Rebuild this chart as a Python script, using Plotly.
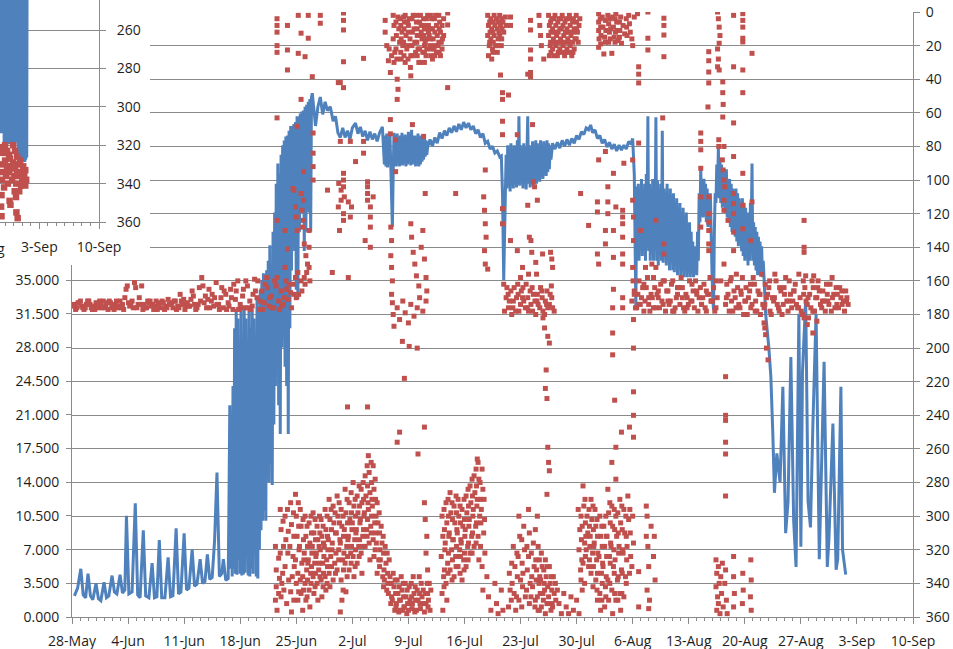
import plotly.graph_objects as go
import pandas as pd

W, H = 953, 649
BASE = pd.Timestamp("2013-05-28")
INSET_BASE = pd.Timestamp("2013-09-03")

# ---------------- main blue series: (days after 28-May, value on left axis) ----------------
blue_early = [
    (0.3, 2.2), (0.7, 3.0), (1.1, 5.0), (1.4, 2.3), (1.7, 2.0), (2.0, 4.5), (2.3, 2.2), (2.6, 1.8),
    (3.0, 3.5), (3.3, 1.9), (3.6, 1.7), (4.0, 3.6), (4.3, 2.0), (4.6, 2.2), (5.0, 4.3), (5.3, 2.6),
    (5.6, 2.4), (6.0, 4.4), (6.3, 2.5), (6.6, 2.8), (6.8, 10.5), (7.1, 2.4), (7.5, 2.6), (7.9, 11.8),
    (8.2, 2.3), (8.5, 2.0), (8.9, 9.0), (9.2, 2.2), (9.6, 2.0), (10.0, 5.6), (10.3, 2.0), (10.6, 2.1),
    (10.9, 8.0), (11.2, 2.0), (11.6, 2.0), (12.0, 6.2), (12.3, 2.1), (12.6, 2.2), (13.0, 9.2),
    (13.3, 2.4), (13.6, 2.6), (14.0, 8.7), (14.3, 2.8), (14.6, 3.0), (15.0, 7.0), (15.3, 3.2),
    (15.6, 3.4), (16.0, 6.0), (16.3, 3.5), (16.6, 3.7), (16.9, 6.5), (17.2, 3.9), (17.5, 4.1),
    (17.8, 7.9), (18.1, 15.0), (18.4, 4.2), (18.7, 4.5), (18.9, 6.0), (19.2, 3.8),
]
blue_rise = [
    (19.5, 4.0), (19.6, 12), (19.7, 22), (19.8, 5), (19.9, 14), (20.0, 4.2), (20.1, 24), (20.2, 5),
    (20.3, 30), (20.4, 4.5), (20.5, 32), (20.6, 4.4), (20.7, 31), (20.8, 6), (20.9, 26), (21.0, 4.5),
    (21.1, 32), (21.2, 4.3), (21.3, 25), (21.4, 4.4), (21.5, 32), (21.6, 4.6), (21.7, 31), (21.8, 8),
    (21.9, 20), (22.0, 4.3), (22.1, 32), (22.2, 4.2), (22.3, 30), (22.4, 5), (22.5, 32), (22.6, 4.5),
    (22.7, 31), (22.8, 10), (22.9, 24), (23.0, 4.2), (23.1, 33), (23.2, 4.0), (23.3, 32), (23.4, 7),
    (23.5, 34), (23.6, 9), (23.7, 35), (23.8, 10), (23.9, 35.7), (24.0, 11), (24.1, 34), (24.2, 10),
    (24.3, 36), (24.4, 16), (24.5, 37), (24.6, 14), (24.7, 38.6), (24.8, 16), (24.9, 36),
    (25.0, 13.7), (25.1, 40), (25.2, 20), (25.3, 42), (25.4, 24), (25.5, 45), (25.6, 26),
    (25.7, 47.1), (25.8, 22), (25.9, 46), (26.0, 19), (26.1, 48), (26.2, 28), (26.3, 49), (26.4, 29),
    (26.5, 49.5), (26.6, 26), (26.7, 49.9), (26.8, 24), (26.9, 50), (27.0, 19), (27.1, 50.5),
    (27.2, 30), (27.3, 51), (27.4, 36), (27.5, 51), (27.6, 40), (27.7, 51.2), (27.8, 38), (27.9, 51.4),
    (28.0, 34), (28.1, 52), (28.2, 33), (28.3, 52), (28.4, 40), (28.5, 52.3), (28.6, 42), (28.7, 52.5),
    (28.8, 44), (28.9, 52.6), (29.0, 38), (29.1, 53), (29.2, 40), (29.3, 53.2), (29.4, 45),
    (29.5, 53.5), (29.6, 42), (29.7, 53.8), (29.8, 40), (29.9, 54), (30.0, 54.4),
]
blue_plateau = [
    (30.4, 51), (30.7, 53), (31.0, 54), (31.3, 52.2), (31.6, 53.5), (31.9, 52.6), (32.25, 53),
    (32.6, 51.5), (32.9, 52), (33.2, 50.3), (33.5, 49.8), (33.8, 50.8), (34.1, 49.8), (34.4, 50.5),
    (34.7, 49.6), (35.0, 50.8), (35.4, 51.3), (35.7, 50.2), (36.0, 50.9), (36.3, 49.9), (36.6, 50.5),
    (36.9, 49.5), (37.2, 50.4), (37.5, 49.6), (37.8, 50.2), (38.1, 49.4), (38.4, 50.3), (38.75, 50.9),
    (39.0, 47.0), (39.1, 50), (39.2, 46.8), (39.3, 50.2), (39.4, 46.7), (39.5, 49.8), (39.6, 47),
    (39.7, 50), (39.8, 47.5), (39.9, 45), (40.0, 40.5), (40.1, 46), (40.2, 50.3), (40.3, 47),
    (40.4, 50), (40.5, 46.8), (40.6, 50.2), (40.7, 47.2), (40.8, 49.8), (40.9, 46.8), (41.0, 50),
    (41.1, 47), (41.2, 50.3), (41.3, 46.9), (41.4, 49.6), (41.5, 47.2), (41.6, 50.1), (41.7, 46.8),
    (41.8, 49.8), (41.9, 47), (42.0, 50.4), (42.1, 47.2), (42.2, 49.6), (42.3, 46.9), (42.4, 50.6),
    (42.5, 47), (42.6, 49.8), (42.7, 47.4), (42.8, 50), (42.9, 46.8), (43.0, 49.5), (43.1, 47.2),
    (43.2, 50.2), (43.3, 46.8), (43.4, 49.6), (43.5, 47), (43.6, 50), (43.7, 47.3), (43.8, 49.5),
    (43.9, 47.5), (44.0, 50), (44.1, 47.8), (44.2, 49.5), (44.3, 48), (44.4, 48.8),
    (44.7, 49.6), (45.0, 48.9), (45.3, 49.8), (45.6, 49.2), (45.9, 50.3), (46.2, 49.7), (46.5, 50.5),
    (46.8, 50), (47.1, 50.8), (47.4, 50.3), (47.7, 51), (48.0, 50.4), (48.3, 51.2), (48.6, 50.6),
    (48.9, 51.4), (49.2, 50.8), (49.5, 51.3), (49.8, 50.6), (50.1, 51), (50.4, 50.2), (50.7, 50.6),
    (51.0, 49.8), (51.3, 50.2), (51.6, 49.2), (51.9, 49.4), (52.2, 48.6), (52.5, 48.9), (52.8, 48.2),
    (53.1, 48.4), (53.4, 47.8), (53.6, 47.9), (53.75, 44), (53.9, 35.0),
    (54.1, 44.7), (54.2, 48), (54.3, 44.5), (54.4, 49), (54.5, 45), (54.6, 48.5), (54.7, 44.2),
    (54.8, 49.2), (54.9, 45), (55.0, 48.6), (55.1, 44.5), (55.2, 49), (55.3, 45.2), (55.4, 48.8),
    (55.5, 44.6), (55.6, 49.5), (55.7, 45), (55.8, 52), (55.9, 44.8), (56.0, 49), (56.1, 45.2),
    (56.2, 48.6), (56.3, 44.5), (56.4, 49.2), (56.5, 45), (56.6, 48.8), (56.7, 44.4), (56.8, 49.5),
    (56.9, 52), (57.0, 45), (57.1, 49), (57.2, 44.6), (57.3, 48.6), (57.4, 45.2), (57.5, 49.4),
    (57.6, 44.8), (57.7, 48.8), (57.8, 45.4), (57.9, 49.5), (58.0, 45), (58.1, 49.2), (58.2, 45.5),
    (58.3, 48.8), (58.4, 45.2), (58.5, 49.5), (58.6, 45.8), (58.7, 49), (58.8, 45.5), (58.9, 49.4),
    (59.0, 46), (59.1, 49), (59.2, 45.8), (59.3, 49.5), (59.4, 46.2), (59.5, 49.2), (59.6, 46.5),
    (59.7, 49), (59.8, 47.5), (59.9, 48.8), (60.0, 49.2),
    (60.3, 48.6), (60.6, 49.3), (60.9, 48.7), (61.2, 49.5), (61.5, 48.9), (61.8, 49.6), (62.1, 49),
    (62.4, 49.7), (62.7, 49.2), (63.0, 50), (63.3, 49.6), (63.6, 50.4), (63.9, 50.1), (64.2, 50.8),
    (64.5, 50.6), (64.75, 51.1), (65.0, 50.3), (65.3, 50.6), (65.6, 49.7), (65.9, 50), (66.2, 49.2),
    (66.5, 49.6), (66.8, 48.8), (67.1, 49.3), (67.4, 48.6), (67.7, 49.1), (68.0, 48.4), (68.3, 49),
    (68.6, 48.5), (68.9, 49), (69.2, 48.6), (69.5, 49.4), (69.8, 49.1), (70.0, 49.7), (70.2, 46),
    (70.4, 31.9),
]
blue_late = [
    (70.5, 44.7), (70.6, 38), (70.7, 45), (70.8, 37), (70.9, 44), (71.0, 39), (71.1, 45.5),
    (71.2, 37.5), (71.3, 44), (71.4, 38), (71.5, 45), (71.6, 37), (71.7, 46), (71.8, 40), (71.9, 52),
    (72.0, 38), (72.1, 45), (72.2, 37), (72.3, 44.5), (72.4, 38.5), (72.5, 45.5), (72.6, 37),
    (72.7, 45), (72.8, 39), (72.9, 51.9), (73.0, 37), (73.1, 45.3), (73.2, 36.5), (73.3, 44.5),
    (73.4, 38), (73.5, 45), (73.6, 37), (73.7, 50.5), (73.8, 36.8), (73.9, 44.5), (74.0, 37.5),
    (74.1, 44), (74.2, 36.5), (74.3, 45), (74.4, 37), (74.5, 43.5), (74.6, 36), (74.7, 44.5),
    (74.8, 37.5), (74.9, 43.8), (75.0, 36), (75.1, 44), (75.2, 35.8), (75.3, 43), (75.4, 37),
    (75.5, 43.5), (75.6, 35.5), (75.7, 42.5), (75.8, 36.5), (75.9, 43), (76.0, 35.5), (76.1, 42),
    (76.2, 36), (76.3, 42.5), (76.4, 35.3), (76.5, 41.5), (76.6, 36.5), (76.7, 42), (76.8, 35.3),
    (76.9, 40.5), (77.0, 36), (77.1, 41), (77.2, 35.3), (77.3, 40), (77.4, 36), (77.5, 39),
    (77.6, 35.3), (77.7, 38.5), (77.8, 36), (77.9, 38), (78.0, 35.5), (78.1, 40), (78.2, 37),
    (78.3, 44), (78.4, 41), (78.5, 46.7), (78.6, 42), (78.7, 45), (78.8, 41.5), (78.9, 45.5),
    (79.0, 42), (79.1, 45), (79.2, 41), (79.3, 44.5), (79.4, 40.5), (79.5, 44), (79.6, 41),
    (79.7, 44), (79.8, 38), (79.9, 36), (80.0, 33), (80.1, 31.9), (80.2, 40), (80.3, 44), (80.4, 43),
    (80.5, 47), (80.6, 44), (80.7, 48.8), (80.8, 43.5), (80.9, 47.5), (81.0, 43), (81.1, 47),
    (81.2, 42.5), (81.3, 46.5), (81.4, 43), (81.5, 46), (81.6, 42), (81.7, 46.5), (81.8, 41.5),
    (81.9, 45.5), (82.0, 41), (82.1, 45.5), (82.2, 40.5), (82.3, 45), (82.4, 40), (82.5, 44.5),
    (82.6, 41), (82.7, 44), (82.8, 39.5), (82.9, 44.5), (83.0, 39), (83.1, 44), (83.2, 38.5),
    (83.3, 43.5), (83.4, 39), (83.5, 43), (83.6, 38), (83.7, 43.5), (83.8, 37.5), (83.9, 43),
    (84.0, 37), (84.1, 42.5), (84.2, 37.5), (84.3, 42), (84.4, 36.5), (84.5, 42), (84.6, 37),
    (84.7, 43), (84.8, 40), (84.9, 47.1), (85.0, 37), (85.1, 41), (85.2, 36.5), (85.3, 40.5),
    (85.4, 36), (85.5, 40), (85.6, 35.5), (85.7, 39.5), (85.8, 36), (85.9, 39), (86.0, 35.5),
    (86.1, 38.5), (86.2, 35.3), (86.3, 37), (86.4, 35.3), (86.6, 31.5),
    (87.0, 28), (87.25, 25), (87.5, 19), (87.7, 12.9), (88.0, 17), (88.4, 14), (88.75, 23.9),
    (89.1, 8.7), (89.4, 12), (89.75, 27), (90.1, 10), (90.4, 5.2), (90.75, 31.5), (91.0, 7.3),
    (91.2, 25.4), (91.6, 33), (91.9, 12), (92.2, 9.3), (92.5, 20), (92.9, 31.5), (93.3, 6.0),
    (93.9, 26.5), (94.3, 5.2), (94.5, 8), (95.0, 20.1), (95.4, 4.9), (95.6, 6), (96.0, 23.9),
    (96.2, 7.0), (96.6, 4.4),
]

# ---------------- main red series: (days after 28-May, degrees on right axis) ----------------
red_band_early = [
    (0.3, 174), (0.6, 176), (0.9, 173), (1.2, 175), (1.5, 177), (1.8, 174), (2.1, 172), (2.4, 176),
    (2.7, 175), (3.0, 173), (3.3, 176), (3.6, 174), (3.9, 172), (4.2, 175), (4.5, 177), (4.8, 173),
    (5.1, 175), (5.4, 174), (5.7, 176), (6.0, 172), (6.3, 174), (6.6, 170), (6.9, 163), (7.2, 175),
    (7.5, 172), (7.8, 161), (8.1, 176), (8.4, 170), (8.7, 163), (9.0, 174), (9.3, 176), (9.6, 173),
    (9.9, 175), (10.2, 177), (10.5, 172), (10.8, 174), (11.1, 176), (11.4, 173), (11.7, 175),
    (12.0, 171), (12.3, 174), (12.6, 176), (12.9, 172), (13.2, 175), (13.5, 168), (13.8, 174),
    (14.1, 177), (14.4, 173), (14.7, 175), (15.0, 166), (15.3, 174), (15.6, 176), (15.9, 164),
    (16.2, 158), (16.5, 173), (16.8, 176), (17.1, 165), (17.4, 172), (17.7, 175), (18.0, 161),
    (18.3, 174), (18.6, 170), (18.9, 176), (19.2, 168), (19.5, 173), (19.8, 165), (20.1, 177),
    (20.4, 171), (20.7, 160), (21.0, 174), (21.3, 169), (21.6, 176), (21.9, 163), (22.2, 172),
    (22.5, 175), (22.8, 159), (23.1, 170), (23.4, 177), (23.7, 166), (24.0, 173), (24.3, 158),
    (24.6, 175), (24.9, 169), (25.2, 176), (25.5, 163), (25.8, 172), (26.1, 166), (26.4, 174),
    (26.7, 160), (27.0, 171), (27.3, 167), (27.6, 162), (27.9, 158), (28.2, 155),
    (0.45, 177), (1.05, 172), (1.65, 176), (2.25, 174), (2.85, 177), (3.45, 172), (4.05, 176),
    (4.65, 172), (5.25, 177), (5.85, 175), (6.45, 177), (7.05, 173), (7.65, 176), (8.25, 174),
    (8.85, 177), (9.45, 172), (10.05, 174), (10.65, 177), (11.25, 172), (11.85, 176), (12.45, 173),
    (13.05, 177), (13.65, 172), (14.25, 175), (14.85, 171), (15.45, 177), (16.05, 172), (16.65, 169),
    (17.2, 176), (17.8, 170), (18.4, 177), (19.0, 166), (19.6, 175), (20.2, 162), (20.8, 177),
    (21.4, 165), (22.0, 176), (22.6, 168), (23.2, 160), (23.8, 177), (24.4, 164), (25.0, 176),
    (25.6, 158), (26.2, 175), (26.8, 165), (27.4, 176), (28.0, 170),
    (0.15, 175), (0.75, 173), (1.35, 176), (1.95, 172), (2.55, 177), (3.15, 174), (3.75, 176),
    (4.35, 173), (4.95, 176), (5.55, 172), (6.15, 176), (6.75, 165), (7.35, 174), (7.95, 164),
    (8.55, 174), (9.15, 176), (9.75, 172), (10.35, 175), (10.95, 173), (11.55, 177), (12.15, 174),
    (12.75, 172), (13.35, 176), (13.95, 171), (14.55, 175), (15.15, 169), (15.75, 174), (16.35, 163),
    (16.95, 171), (17.5, 168), (18.1, 174), (18.7, 164), (19.3, 177), (19.9, 170), (20.5, 166),
    (21.1, 176), (21.7, 160), (22.3, 177), (22.9, 166), (23.5, 172), (24.1, 162), (24.7, 170),
    (25.3, 160), (25.9, 177), (26.5, 170), (27.1, 162), (27.7, 168),
]
red_band_mid = [
    (53.9, 162), (54.2, 170), (54.5, 176), (54.8, 166), (55.1, 172), (55.4, 178), (55.7, 168),
    (56.0, 174), (56.3, 164), (56.6, 176), (56.9, 170), (57.2, 166), (57.5, 178), (57.8, 172),
    (58.1, 168), (58.4, 176), (58.7, 170), (59.0, 180), (59.3, 166), (59.6, 174), (59.9, 170),
    (60.2, 178), (54.0, 178), (54.3, 164), (54.6, 172), (54.9, 180), (55.2, 164), (55.5, 170),
    (55.8, 178), (56.1, 166), (56.4, 172), (56.7, 162), (57.0, 178), (57.3, 174), (57.6, 168),
    (57.9, 180), (58.2, 174), (58.5, 164), (58.8, 178), (59.1, 172), (59.4, 176), (59.7, 168),
    (60.0, 176), (54.45, 168), (55.05, 176), (55.65, 162), (56.25, 170), (56.85, 176), (57.45, 164),
    (58.05, 172), (58.65, 166), (59.25, 174), (59.85, 163),
]
band_late_days = [
    69.9, 70.2, 70.5, 70.8, 71.1, 71.4, 71.7, 72.0, 72.3, 72.6, 72.9, 73.2, 73.5, 73.8, 74.1, 74.4,
    74.7, 75.0, 75.3, 75.6, 75.9, 76.2, 76.5, 76.8, 77.1, 77.4, 77.7, 78.0, 78.3, 78.6, 78.9, 79.2,
    79.5, 79.8, 80.1, 80.4,
    70.05, 70.35, 70.65, 70.95, 71.25, 71.55, 71.85, 72.15, 72.45, 72.75, 73.05, 73.35, 73.65,
    73.95, 74.25, 74.55, 74.85, 75.15, 75.45, 75.75, 76.05, 76.35, 76.65, 76.95, 77.25, 77.55,
    77.85, 78.15, 78.45, 78.75, 79.05, 79.35, 79.65, 79.95, 80.25, 80.55,
    81.6, 81.9, 82.2, 82.5, 82.8, 83.1, 83.4, 83.7, 84.0, 84.3, 84.6, 84.9, 85.2, 85.5, 85.8, 86.1,
    86.4, 86.7, 87.0, 87.3, 87.6, 87.9, 88.2, 88.5, 88.8, 89.1, 89.4, 89.7, 90.0, 90.3, 90.6, 90.9,
    91.2, 91.5, 91.8, 92.1, 92.4, 92.7, 93.0, 93.3, 93.6, 93.9, 94.2, 94.5, 94.8, 95.1, 95.4, 95.7,
    96.0, 96.3, 96.6, 96.9,
    81.75, 82.05, 82.35, 82.65, 82.95, 83.25, 83.55, 83.85, 84.15, 84.45, 84.75, 85.05, 85.35,
    85.65, 85.95, 86.25, 86.55, 86.85, 87.15, 87.45, 87.75, 88.05, 88.35, 88.65, 88.95, 89.25,
    89.55, 89.85, 90.15, 90.45, 90.75, 91.05, 91.35, 91.65, 91.95, 92.25, 92.55, 92.85, 93.15,
    93.45, 93.75, 94.05, 94.35, 94.65, 94.95, 95.25, 95.55, 95.85, 96.15, 96.45, 96.75,
]
band_late_deg = [
    172, 166, 176, 160, 170, 178, 164, 174, 168, 158, 176, 170, 162, 174, 178, 166, 172, 160,
    176, 168, 174, 164, 178, 170, 160, 172, 176, 166, 170, 174, 162, 178, 168, 172, 164, 176,
    160, 176, 168, 174, 164, 172, 158, 178, 170, 164, 168, 176, 172, 160, 166, 174, 162, 178,
    170, 164, 158, 176, 168, 174, 172, 166, 160, 178, 164, 170, 176, 168, 158, 172, 178, 170,
    174, 168, 160, 178, 170, 164, 176, 158, 172, 180, 166, 174, 162, 178, 168, 156, 176, 170,
    164, 180, 172, 160, 176, 166, 174, 158, 178, 168, 172, 162, 176, 170, 180, 164, 174, 168,
    160, 178, 170, 166, 176, 172, 162, 174, 178, 168, 164, 176, 170, 172, 166, 174,
    162, 178, 172, 166, 156, 174, 168, 180, 164, 170, 176, 158, 172, 166, 180, 174, 162, 168,
    178, 170, 156, 174, 164, 180, 168, 172, 160, 176, 166, 174, 156, 178, 168, 172, 182, 176,
    164, 170, 160, 174, 166, 178, 172, 162, 170, 176, 168, 164, 174, 178, 170,
]
red_band_late_extra = [
    (70.2, 168), (70.8, 174), (71.4, 162), (72.0, 170), (72.6, 176), (73.2, 166), (73.8, 160),
    (74.4, 172), (75.0, 178), (75.6, 164), (76.2, 170), (76.8, 176), (77.4, 162), (78.0, 168),
    (78.6, 174), (79.2, 166), (79.8, 172), (80.4, 160), (81.7, 170), (82.3, 158), (82.9, 176),
    (83.5, 166), (84.1, 172), (84.7, 162), (85.3, 178), (85.9, 168), (86.5, 174), (87.1, 160),
    (87.7, 170), (88.3, 178), (88.9, 164), (89.5, 172), (90.1, 166), (90.7, 176), (91.3, 160),
    (91.9, 170), (92.5, 178), (93.1, 164), (93.7, 172), (94.3, 168), (94.9, 158), (95.5, 174),
    (96.1, 166), (96.7, 172),
]
red_low_clouds = [
    (25.4, 318), (25.5, 332), (25.5, 342), (25.4, 350), (25.6, 356), (26.0, 296), (26.1, 308),
    (26.0, 322), (26.2, 340), (26.1, 348), (26.6, 300), (26.7, 314), (26.6, 330), (26.8, 352),
    (27.3, 292), (27.4, 305), (27.2, 318), (27.5, 336), (27.3, 345), (27.4, 357), (27.9, 287),
    (28.0, 300), (28.1, 312), (27.9, 326), (28.0, 340), (28.2, 350), (28.5, 296), (28.6, 306),
    (28.4, 318), (28.7, 328), (28.5, 338), (28.6, 346), (28.8, 356), (29.1, 300), (29.2, 312),
    (29.0, 322), (29.3, 332), (29.1, 340), (29.2, 350), (29.6, 304), (29.7, 316), (29.5, 326),
    (29.8, 334), (29.6, 344), (29.7, 354), (30.1, 298), (30.2, 310), (30.0, 318), (30.3, 328),
    (30.1, 336), (30.2, 346), (30.6, 306), (30.7, 314), (30.5, 322), (30.8, 332), (30.6, 340),
    (30.7, 350), (31.1, 302), (31.2, 312), (31.0, 320), (31.3, 328), (31.1, 338), (31.2, 348),
    (31.6, 296), (31.7, 308), (31.5, 318), (31.8, 326), (31.6, 336), (31.7, 344), (32.1, 290),
    (32.2, 302), (32.0, 314), (32.3, 324), (32.1, 334), (32.2, 342), (32.6, 294), (32.7, 304),
    (32.5, 316), (32.8, 328), (32.6, 338), (33.1, 288), (33.2, 300), (33.0, 310), (33.3, 320),
    (33.1, 332),
    (25.8, 325), (25.9, 337), (25.8, 346), (26.35, 303), (26.4, 318), (26.3, 334), (26.45, 344),
    (26.9, 296), (27.0, 309), (26.95, 322), (27.05, 338), (27.65, 298), (27.7, 312), (27.6, 324),
    (27.75, 330), (27.7, 350), (28.25, 292), (28.3, 306), (28.35, 320), (28.2, 334), (28.3, 345),
    (28.85, 302), (28.9, 314), (28.95, 326), (28.8, 336), (28.9, 344), (29.35, 306), (29.4, 318),
    (29.45, 328), (29.4, 338), (29.35, 348), (29.85, 300), (29.9, 310), (29.95, 322), (29.9, 330),
    (29.85, 340), (30.35, 302), (30.4, 314), (30.45, 324), (30.4, 334), (30.35, 342), (30.9, 300),
    (30.95, 310), (30.85, 318), (30.9, 328), (30.95, 336), (31.35, 306), (31.4, 316), (31.45, 324),
    (31.4, 334), (31.35, 342), (31.85, 300), (31.9, 312), (31.95, 320), (31.9, 330), (31.85, 340),
    (32.35, 296), (32.4, 308), (32.45, 320), (32.4, 330), (32.85, 298), (32.9, 310), (32.95, 322),
    (32.9, 334), (33.35, 292), (33.4, 304), (33.45, 314), (33.3, 326),
    (33.6, 296), (33.7, 306), (33.5, 316), (33.8, 326), (33.6, 338), (33.7, 350), (33.5, 357),
    (34.1, 284), (34.2, 298), (34.0, 308), (34.3, 318), (34.1, 328), (34.2, 345), (34.6, 292),
    (34.7, 302), (34.5, 312), (34.8, 322), (34.6, 332), (35.1, 280), (35.2, 294), (35.0, 304),
    (35.3, 314), (35.1, 324), (35.2, 336), (35.6, 288), (35.7, 298), (35.5, 308), (35.8, 318),
    (35.6, 328), (36.1, 284), (36.2, 292), (36.0, 302), (36.3, 312), (36.1, 322), (36.2, 334),
    (36.6, 276), (36.7, 288), (36.5, 298), (36.8, 308), (36.6, 318), (37.0, 264), (37.1, 274),
    (37.2, 286), (37.0, 296), (37.3, 306), (37.1, 316), (37.2, 326), (37.6, 270), (37.7, 284),
    (37.5, 294), (37.8, 304), (37.6, 314), (37.7, 324), (38.1, 292), (38.2, 304), (38.0, 316),
    (38.3, 326), (38.1, 334), (38.6, 306), (38.7, 316), (38.5, 326), (38.8, 336), (39.1, 318),
    (39.2, 328), (39.0, 338), (39.3, 344),
    (33.85, 300), (33.9, 312), (33.95, 322), (33.9, 332), (33.85, 344), (34.35, 290), (34.4, 304),
    (34.45, 314), (34.4, 324), (34.35, 336), (34.85, 286), (34.9, 298), (34.95, 308), (34.9, 318),
    (34.85, 328), (35.35, 290), (35.4, 300), (35.45, 310), (35.4, 320), (35.35, 330), (35.85, 282),
    (35.9, 294), (35.95, 304), (35.9, 314), (35.85, 324), (36.35, 280), (36.4, 290), (36.45, 300),
    (36.4, 308), (36.35, 318), (36.85, 270), (36.9, 282), (36.95, 292), (36.9, 302), (36.85, 312),
    (37.35, 268), (37.4, 280), (37.45, 290), (37.4, 300), (37.35, 310), (37.85, 278), (37.9, 290),
    (37.95, 300), (37.9, 310), (37.85, 320), (38.35, 298), (38.4, 310), (38.45, 320), (38.4, 330),
    (38.85, 312), (38.9, 322), (38.95, 332), (38.9, 342), (39.35, 322), (39.4, 334), (39.45, 340),
    (39.6, 326), (39.7, 336), (39.5, 346), (39.8, 352), (40.1, 334), (40.2, 342), (40.0, 350),
    (40.3, 356), (40.6, 338), (40.7, 346), (40.5, 352), (40.8, 357), (41.1, 336), (41.2, 344),
    (41.0, 350), (41.3, 356), (41.6, 340), (41.7, 348), (41.5, 354), (41.8, 358), (42.1, 342),
    (42.2, 350), (42.0, 356), (42.6, 336), (42.7, 346), (42.5, 352), (42.8, 357), (43.1, 344),
    (43.2, 350), (43.0, 356), (43.6, 340), (43.7, 348), (43.5, 355), (44.1, 346), (44.2, 352),
    (44.0, 357), (44.5, 350), (44.7, 356), (44.0, 292), (44.1, 302), (44.3, 312), (44.2, 322),
    (44.4, 332), (44.6, 340),
    (39.85, 340), (39.9, 348), (40.35, 338), (40.4, 346), (40.45, 354), (40.85, 342), (40.9, 350),
    (40.95, 356), (41.35, 340), (41.4, 348), (41.45, 354), (41.85, 344), (41.9, 352), (42.35, 340),
    (42.4, 348), (42.45, 355), (42.85, 342), (42.9, 350), (43.35, 336), (43.4, 346), (43.45, 352),
    (43.85, 344), (43.9, 352), (44.35, 340), (44.4, 346), (44.45, 354), (44.8, 344),
    (46.2, 300), (46.3, 312), (46.1, 324), (46.4, 336), (46.2, 346), (46.3, 356), (46.7, 292),
    (46.8, 304), (46.6, 316), (46.9, 328), (46.7, 340), (46.8, 350), (47.2, 286), (47.3, 298),
    (47.1, 310), (47.4, 320), (47.2, 332), (47.7, 294), (47.8, 304), (47.6, 314), (47.9, 324),
    (47.7, 336), (48.2, 290), (48.3, 300), (48.1, 310), (48.4, 320), (48.2, 330), (48.7, 296),
    (48.8, 306), (48.6, 316), (48.9, 326), (48.7, 338), (49.2, 288), (49.3, 298), (49.1, 308),
    (49.4, 318), (49.2, 330), (49.7, 282), (49.8, 292), (49.6, 302), (49.9, 312), (49.7, 322),
    (50.2, 276), (50.3, 286), (50.1, 296), (50.4, 306), (50.2, 318), (50.7, 268), (50.8, 278),
    (50.6, 290), (50.9, 300), (50.7, 312), (50.8, 326), (51.2, 272), (51.3, 284), (51.1, 296),
    (51.4, 310), (51.2, 330), (51.3, 344), (50.6, 266), (51.8, 336), (52.0, 348), (52.3, 356),
    (52.8, 340), (53.0, 352), (53.2, 358), (53.6, 344), (53.8, 356),
    (46.45, 296), (46.5, 308), (46.55, 320), (46.5, 332), (46.45, 342), (46.95, 290), (47.0, 300),
    (47.05, 312), (47.0, 322), (46.95, 334), (47.45, 292), (47.5, 302), (47.55, 314), (47.5, 326),
    (47.45, 338), (47.95, 288), (48.0, 298), (48.05, 308), (48.0, 318), (47.95, 330), (48.45, 294),
    (48.5, 304), (48.55, 314), (48.5, 324), (48.45, 334), (48.95, 290), (49.0, 302), (49.05, 312),
    (49.0, 322), (48.95, 332), (49.45, 284), (49.5, 294), (49.55, 306), (49.5, 316), (49.45, 326),
    (49.95, 278), (50.0, 288), (50.05, 300), (50.0, 310), (49.95, 322), (50.45, 272), (50.5, 282),
    (50.55, 294), (50.5, 304), (50.45, 316), (50.95, 280), (51.0, 290), (51.05, 304), (51.0, 318),
    (51.45, 290), (51.5, 302), (51.55, 322),
    (54.6, 334), (54.7, 344), (54.5, 354), (55.1, 318), (55.3, 330), (55.2, 346), (55.4, 356),
    (55.8, 300), (55.9, 312), (55.7, 324), (56.0, 338), (55.8, 350), (56.4, 306), (56.5, 320),
    (56.3, 334), (56.6, 348), (57.0, 296), (57.1, 310), (57.0, 324), (57.2, 340), (57.1, 352),
    (57.6, 316), (57.7, 330), (57.5, 342), (57.8, 354), (58.1, 300), (58.2, 318), (58.0, 332),
    (58.3, 340), (58.1, 348), (58.2, 356), (58.6, 322), (58.7, 330), (58.5, 338), (58.8, 346),
    (58.6, 354), (59.1, 326), (59.2, 336), (59.0, 344), (59.3, 352), (59.1, 358), (59.6, 330),
    (59.7, 340), (59.5, 348), (59.8, 356), (60.1, 336), (60.2, 346), (60.0, 354),
    (54.9, 328), (54.95, 340), (54.85, 350), (55.55, 322), (55.6, 336), (55.5, 348), (56.15, 314),
    (56.2, 328), (56.25, 342), (56.15, 354), (56.8, 318), (56.85, 332), (56.75, 344), (57.35, 322),
    (57.4, 336), (57.3, 348), (57.85, 308), (57.9, 326), (57.95, 338), (57.85, 350), (58.35, 326),
    (58.4, 336), (58.45, 346), (58.35, 356), (58.9, 332), (58.95, 340), (58.85, 350), (59.35, 330),
    (59.4, 342), (59.45, 352), (59.85, 336), (59.9, 344), (59.95, 352), (60.35, 340), (60.4, 350),
    (60.6, 344), (60.8, 352), (61.1, 358), (61.4, 346), (61.7, 354), (62.0, 358), (62.3, 348),
    (62.6, 356), (63.0, 350), (63.3, 358), (63.7, 344),
    (63.2, 296), (63.4, 308), (63.3, 320), (63.5, 332), (63.8, 282), (63.9, 294), (63.7, 306),
    (64.0, 316), (63.8, 328), (64.0, 340), (64.3, 300), (64.4, 310), (64.2, 320), (64.5, 330),
    (64.8, 290), (64.9, 302), (64.7, 312), (65.0, 322), (64.8, 334), (65.3, 296), (65.4, 306),
    (65.2, 316), (65.5, 326), (65.4, 338), (65.6, 350), (65.9, 300), (66.0, 312), (65.8, 324),
    (66.1, 334), (65.9, 346), (66.0, 356), (66.4, 306), (66.5, 318), (66.3, 330), (66.6, 342),
    (66.5, 354), (66.9, 284), (67.0, 298), (66.8, 312), (67.1, 324), (66.9, 338), (67.0, 350),
    (67.4, 294), (67.5, 306), (67.3, 318), (67.6, 330), (67.4, 344), (67.5, 358), (67.9, 300),
    (68.0, 312), (67.8, 326), (68.1, 338), (67.9, 350), (68.4, 290), (68.5, 304), (68.3, 318),
    (68.6, 332), (68.4, 346), (68.5, 356), (68.9, 296), (69.0, 310), (68.8, 322), (69.1, 336),
    (68.9, 348), (69.4, 288), (69.5, 302), (69.3, 318), (69.6, 334), (70.0, 300), (70.1, 316),
    (69.9, 330), (70.75, 333), (70.75, 354),
    (63.55, 300), (63.6, 314), (63.65, 326), (63.55, 338), (64.05, 290), (64.1, 304), (64.15, 312),
    (64.1, 324), (64.55, 296), (64.6, 306), (64.65, 318), (64.6, 326), (65.05, 294), (65.1, 308),
    (65.15, 318), (65.1, 330), (65.05, 342), (65.55, 302), (65.6, 312), (65.65, 322), (65.6, 334),
    (65.55, 344), (66.15, 306), (66.2, 318), (66.25, 328), (66.2, 340), (66.15, 350), (66.65, 300),
    (66.7, 312), (66.75, 324), (66.7, 336), (66.65, 348), (67.15, 292), (67.2, 304), (67.25, 316),
    (67.2, 328), (67.15, 340), (67.7, 296), (67.75, 308), (67.65, 320), (67.7, 334), (67.75, 346),
    (68.15, 298), (68.2, 310), (68.25, 322), (68.2, 336), (68.15, 350), (68.65, 294), (68.7, 308),
    (68.75, 320), (68.7, 334), (68.65, 346), (69.15, 300), (69.2, 312), (69.25, 326), (69.2, 340),
    (69.65, 296), (69.7, 310), (69.75, 324),
    (71.7, 294), (71.8, 300), (71.7, 312), (71.9, 318), (72.0, 330), (71.8, 344), (72.1, 350),
    (72.0, 355), (72.3, 306), (72.6, 324), (72.8, 338), (72.7, 312),
    (80.4, 326), (80.5, 334), (80.4, 342), (80.6, 348), (80.5, 356), (80.7, 330), (80.8, 340),
    (80.7, 352), (80.9, 358), (81.0, 336), (81.1, 346), (81.2, 328), (81.3, 354), (81.5, 340),
    (81.6, 332), (81.7, 350), (81.8, 358), (82.6, 324), (82.6, 336), (82.7, 346), (82.6, 354),
    (83.75, 334), (83.8, 344), (83.7, 352), (84.75, 326), (84.8, 338), (84.7, 348), (84.8, 356),
]
red_high_clouds = [
    (25.6, 4), (25.6, 8), (25.6, 12), (25.6, 20), (25.6, 24), (26.9, 8), (26.9, 22.6), (26.9, 34.5),
    (28.25, 2), (28.25, 24.6), (28.6, 12.6), (29.1, 26.6), (29.5, 15.6), (29.5, 2), (30.0, 38.5),
    (31.0, 2), (31.0, 6.7), (33.9, 0.6), (33.9, 5), (33.9, 10.7), (33.9, 29.6), (36.4, 27.6),
    (33.5, 42), (33.9, 45),
    (39.1, 5), (39.1, 12), (39.3, 20), (39.6, 22), (39.9, 26), (39.5, 29), (39.75, 36), (40.1, 2),
    (40.2, 8), (40.1, 16), (40.3, 24), (40.2, 30), (40.6, 40), (40.7, 46), (40.6, 52), (40.7, 3),
    (40.8, 10), (40.9, 18), (41.0, 4), (41.2, 12), (41.3, 20), (41.1, 28), (41.5, 6), (41.6, 2),
    (41.7, 14), (41.8, 22), (41.6, 30), (42.0, 8), (42.1, 4), (42.2, 16), (42.3, 26), (42.25, 33),
    (42.3, 38), (42.6, 2), (42.7, 10), (42.8, 18), (42.9, 24), (43.0, 6), (43.1, 14), (43.2, 22),
    (43.3, 30), (43.5, 2), (43.6, 8), (43.7, 16), (43.8, 24), (43.6, 12), (43.9, 4), (44.0, 10),
    (44.1, 18), (44.2, 26), (44.0, 20), (44.4, 2), (44.5, 8), (44.6, 14), (44.7, 20), (44.8, 26),
    (44.5, 12), (44.9, 4), (45.0, 10), (45.1, 16), (45.2, 22), (45.0, 28), (45.4, 2), (45.5, 8),
    (45.6, 14), (45.7, 20), (45.5, 24), (45.9, 6), (46.0, 12), (46.1, 18), (46.0, 26), (46.4, 4),
    (46.4, 14), (46.9, 0.6), (46.9, 7.7), (46.9, 45), (44.0, 30), (43.5, 30),
    (40.45, 6), (40.5, 14), (40.45, 22), (40.55, 28), (41.05, 8), (41.1, 16), (41.05, 24), (41.4, 3),
    (41.45, 10), (41.4, 18), (41.45, 26), (41.9, 6), (41.95, 12), (41.9, 20), (41.95, 28), (42.45, 4),
    (42.5, 12), (42.45, 20), (42.5, 26), (43.05, 2), (43.1, 10), (43.05, 18), (43.1, 26), (43.4, 6),
    (43.45, 14), (43.4, 22), (43.95, 8), (43.9, 14), (44.0, 24), (44.25, 4), (44.3, 10), (44.25, 16),
    (44.3, 22), (44.75, 2), (44.8, 10), (44.75, 16), (44.8, 22), (45.25, 4), (45.3, 12), (45.25, 20),
    (45.3, 26), (45.8, 2), (45.85, 10), (45.8, 18), (45.85, 24), (46.2, 8), (46.25, 16), (46.2, 22),
    (51.9, 2), (52.0, 8), (51.9, 14), (52.1, 20), (52.0, 26), (52.3, 4), (52.4, 10), (52.3, 16),
    (52.5, 22), (52.4, 28), (52.7, 2), (52.8, 8), (52.7, 14), (52.9, 20), (53.0, 4), (53.1, 10),
    (53.2, 16), (53.1, 24), (53.4, 2), (53.5, 8), (53.4, 14), (53.6, 20), (53.8, 6), (53.9, 12),
    (54.1, 3), (54.2, 8), (53.5, 37.5), (53.75, 48), (53.75, 52), (54.5, 49.4),
    (52.15, 6), (52.2, 12), (52.15, 18), (52.6, 6), (52.55, 12), (52.6, 18), (52.55, 24), (53.25, 6),
    (53.3, 12), (53.25, 20), (53.65, 4), (53.7, 10), (53.65, 16),
    (54.75, 3), (54.75, 8), (57.25, 5), (57.25, 10.7), (57.25, 22.6), (57.25, 28), (57.25, 36),
    (57.25, 38.5), (56.9, 37), (58.3, 2), (58.4, 8), (58.5, 14), (58.6, 20), (58.9, 28),
    (59.5, 2), (59.6, 8), (59.5, 14), (59.7, 20), (59.6, 26), (59.9, 4), (60.0, 10), (60.1, 16),
    (60.0, 22), (60.3, 2), (60.4, 8), (60.5, 14), (60.4, 20), (60.6, 26), (60.8, 4), (60.9, 10),
    (61.0, 16), (60.9, 22), (61.2, 2), (61.3, 8), (61.4, 14), (61.3, 20), (61.5, 26), (61.7, 4),
    (61.8, 10), (61.9, 16), (61.8, 22), (62.1, 2), (62.2, 8), (62.3, 14), (62.2, 20), (62.4, 26),
    (62.6, 4), (62.7, 10), (62.8, 16), (62.7, 22), (63.0, 6), (63.1, 12), (63.2, 18), (63.4, 4),
    (59.75, 6), (59.8, 12), (59.75, 18), (59.8, 24), (60.15, 4), (60.2, 12), (60.15, 18), (60.2, 26),
    (60.65, 6), (60.7, 12), (60.65, 18), (60.7, 24), (61.05, 4), (61.1, 10), (61.05, 18), (61.1, 24),
    (61.55, 6), (61.6, 12), (61.55, 18), (61.6, 24), (62.0, 4), (62.05, 12), (62.0, 18), (62.05, 24),
    (62.5, 6), (62.55, 12), (62.5, 18), (62.55, 24), (62.95, 2), (63.0, 10), (62.95, 16), (63.3, 8),
    (65.75, 1), (65.75, 6), (65.75, 11), (65.8, 16), (65.75, 21), (66.2, 3), (66.3, 9), (66.5, 15),
    (66.4, 25), (66.9, 2), (67.0, 7), (67.1, 12), (67.0, 18), (67.4, 24.6), (67.5, 3), (67.6, 9),
    (67.7, 15), (67.9, 1), (68.0, 6), (68.1, 11), (68.2, 17), (68.5, 3), (68.6, 18.6), (68.8, 8),
    (69.0, 13), (69.5, 2), (69.6, 7), (69.7, 12), (69.9, 16), (70.0, 20), (70.2, 3), (70.6, 1),
    (65.95, 4), (66.0, 9), (66.05, 14), (66.0, 19), (66.6, 5), (66.65, 11), (66.6, 18), (67.2, 4),
    (67.25, 10), (67.2, 16), (67.8, 4), (67.85, 12), (67.8, 18), (68.35, 6), (68.4, 11), (68.35, 15),
    (69.2, 4), (69.25, 9), (69.3, 14),
    (71.9, 0), (71.9, 15.6), (71.9, 22.6), (73.9, 3.7), (73.9, 8), (73.9, 13.7), (73.9, 26.6),
    (70.75, 32.6), (70.75, 37), (70.75, 42.2),
    (79.5, 23.6), (79.5, 29), (79.5, 35.7), (79.5, 42.2), (79.4, 56.5), (80.6, 0), (80.7, 4),
    (80.8, 9), (80.9, 14), (80.8, 18.6), (80.6, 22), (80.7, 28), (80.8, 34.5), (80.6, 32.6),
    (81.25, 41.6), (81.25, 48), (81.3, 55), (81.25, 62.5), (82.6, 66), (82.6, 32.6), (82.6, 2),
    (83.75, 1), (83.75, 5), (83.75, 9), (83.75, 15.6), (83.75, 17.8), (83.75, 34.5), (83.75, 48),
    (84.9, 24.6),
]
red_scatter = [
    (25.6, 124), (25.6, 63), (26.6, 130), (26.6, 152), (26.9, 141), (27.6, 105), (27.9, 116),
    (28.0, 122), (28.1, 68), (28.6, 52), (28.9, 95), (28.9, 112), (28.9, 124), (30.1, 72),
    (30.1, 84), (30.1, 92), (30.1, 100), (29.6, 130), (29.6, 140), (29.6, 152), (27.7, 106),
    (28.1, 130), (28.6, 108), (28.7, 118), (28.8, 128), (29.0, 138), (29.2, 145), (29.4, 150),
    (29.7, 160), (29.1, 162), (28.7, 166), (28.3, 168), (28.6, 160), (29.0, 158), (29.3, 155),
    (31.9, 106), (32.5, 155), (33.25, 42), (33.25, 116), (33.4, 130),
    (33.5, 77), (34.75, 77), (36.4, 77), (36.4, 84), (35.4, 89), (33.9, 96), (33.9, 100),
    (33.9, 104), (33.3, 102), (33.6, 106), (34.0, 110), (34.5, 113), (34.9, 116), (33.6, 112),
    (33.9, 120), (33.9, 124), (34.75, 122), (36.9, 101), (36.9, 104), (36.9, 108), (36.9, 112),
    (37.25, 116), (37.25, 122), (37.25, 128), (37.25, 140), (37.6, 110), (36.6, 136), (34.5, 158),
    (34.4, 235), (36.9, 235), (40.6, 256), (40.9, 250), (41.5, 218), (43.2, 263), (44.0, 247),
    (40.0, 173), (40.1, 180), (40.2, 187), (40.6, 176), (40.9, 183), (41.3, 172), (41.6, 179),
    (42.0, 185), (42.3, 174), (42.7, 181), (43.1, 176), (43.4, 170), (43.8, 178), (44.2, 172),
    (41.25, 196), (42.1, 199), (43.1, 200), (39.8, 128), (39.9, 136), (39.8, 145), (39.9, 152),
    (40.0, 160), (39.9, 168), (42.3, 126), (42.4, 134), (42.6, 143), (42.8, 150), (43.0, 157),
    (43.3, 163), (43.6, 140), (43.8, 130), (44.0, 147), (44.2, 158), (44.3, 166),
    (39.75, 64), (39.75, 72.5), (40.4, 76), (40.4, 95), (42.5, 67), (43.9, 74), (44.1, 108),
    (47.9, 108), (53.75, 65), (53.75, 73), (55.6, 73), (57.5, 67), (51.6, 94),
    (51.4, 110), (51.5, 118), (51.6, 126), (51.7, 134), (51.5, 142), (51.6, 150), (51.9, 153),
    (53.75, 117), (53.75, 126), (54.75, 136), (55.6, 142), (57.1, 134), (57.3, 136), (57.4, 143),
    (57.9, 149), (58.75, 144), (59.75, 143), (59.9, 147), (60.0, 152), (56.25, 152), (56.0, 158),
    (57.0, 156), (58.0, 156), (57.6, 101), (57.75, 104), (56.9, 115), (58.1, 112), (63.5, 108),
    (65.6, 113), (65.6, 119), (64.5, 127), (65.6, 144), (65.75, 88),
    (59.2, 213), (59.1, 224), (59.3, 230), (59.4, 259), (59.5, 268), (59.6, 273), (59.3, 287),
    (58.8, 182), (59.0, 188), (59.4, 193), (59.6, 197),
    (67.4, 268), (67.9, 259), (67.9, 278), (67.5, 176), (67.5, 191), (67.5, 204), (67.75, 231),
    (68.6, 250), (69.6, 247), (70.1, 253), (70.1, 240), (70.1, 226), (70.1, 200), (70.1, 183),
    (66.6, 83), (67.6, 96), (68.9, 90), (70.0, 88), (70.75, 78), (73.75, 63), (66.9, 104),
    (66.9, 113), (66.9, 120), (67.9, 116), (68.75, 118), (68.75, 122), (68.75, 126), (70.0, 112),
    (70.1, 122), (66.6, 130), (66.6, 138), (67.6, 130), (68.75, 134), (68.75, 144), (70.1, 136),
    (71.0, 130), (72.9, 124), (73.9, 138), (73.9, 144), (65.75, 150), (67.6, 146), (68.75, 150),
    (70.0, 152), (71.6, 152), (72.4, 150), (72.9, 152), (67.6, 165), (68.75, 170), (68.75, 176),
    (78.5, 72), (78.5, 77), (78.5, 82), (78.5, 93), (78.5, 110), (78.5, 128), (79.5, 110),
    (79.5, 120), (79.5, 125), (79.5, 130), (79.5, 138), (79.5, 142), (80.75, 76), (80.75, 80),
    (81.4, 80), (81.2, 88), (81.3, 94), (81.4, 100), (81.5, 104), (81.4, 112), (81.4, 118),
    (81.9, 124), (81.4, 150), (81.0, 160), (82.6, 86), (82.6, 108), (82.6, 114), (82.6, 120),
    (82.6, 131), (82.6, 142), (83.75, 96), (83.75, 115), (83.75, 129), (84.9, 113), (84.75, 136),
    (81.6, 217), (81.6, 240), (81.6, 243), (81.6, 256), (81.6, 263), (81.6, 288),
    (86.4, 185), (86.6, 192), (86.7, 200), (86.9, 207), (86.5, 188), (91.4, 182), (91.8, 186),
    (92.5, 191), (93.0, 184), (91.4, 124), (91.4, 140), (91.4, 143), (91.6, 157), (92.6, 157),
]

# ---------------- inset chart (days relative to 3-Sep) ----------------
inset_blue = [
    (-4.63, 12), (-4.58, 4.0), (-4.53, 12), (-4.48, 4.2), (-4.43, 12), (-4.38, 4.0), (-4.33, 12),
    (-4.29, 4.1), (-4.26, 12), (-4.2, 12), (-4.14, 3.6), (-4.09, 12), (-4.04, 3.5), (-3.99, 12),
    (-3.93, 3.6), (-3.88, 12), (-3.82, 3.5), (-3.77, 12), (-3.71, 3.6), (-3.66, 12), (-3.6, 3.5),
    (-3.55, 12), (-3.5, 3.6), (-3.45, 12), (-3.3, 12), (-3.19, 3.6), (-3.14, 12), (-3.09, 3.5),
    (-3.04, 12), (-2.98, 3.6), (-2.93, 12), (-2.88, 3.5), (-2.83, 12), (-2.78, 3.6), (-2.74, 12),
    (-2.6, 12), (-2.48, 3.2), (-2.43, 12), (-2.37, 3.0), (-2.32, 12), (-2.26, 2.9), (-2.21, 12),
    (-2.15, 2.8), (-2.1, 12), (-2.04, 2.7), (-1.99, 12), (-1.93, 2.7), (-1.88, 12), (-1.82, 2.8),
    (-1.77, 12), (-1.71, 2.7), (-1.66, 12), (-1.6, 2.8), (-1.55, 12), (-1.49, 2.9), (-1.44, 12),
]
inset_red = [
    (-4.51, 321), (-4.51, 330), (-4.4, 338), (-4.27, 324), (-4.27, 334), (-4.15, 342), (-4.03, 320),
    (-4.03, 328), (-3.9, 336), (-3.8, 323), (-3.8, 331), (-3.7, 340), (-3.56, 325), (-3.56, 334),
    (-3.45, 327), (-3.32, 332), (-3.2, 338), (-3.08, 320), (-3.08, 329), (-2.97, 336), (-2.85, 323),
    (-2.85, 332), (-2.73, 340), (-2.61, 326), (-2.61, 335), (-2.49, 330), (-2.37, 336), (-2.37, 344),
    (-2.25, 328), (-2.14, 334), (-2.14, 341), (-2.02, 338), (-1.9, 331), (-1.9, 340), (-1.78, 336),
    (-1.66, 333), (-1.66, 341), (-1.55, 338), (-4.45, 346), (-4.5, 352), (-4.45, 357), (-3.5, 349),
    (-3.4, 351), (-2.9, 344), (-2.75, 347), (-2.7, 355), (-2.55, 358),
]

left_ticks = [0, 3.5, 7, 10.5, 14, 17.5, 21, 24.5, 28, 31.5, 35]
right_ticks = list(range(0, 361, 20))
inset_right_ticks = [260, 280, 300, 320, 340, 360]

BLUE = "#4F81BD"
RED = "#C0504D"
GRID = "#8A8A8A"
TXT = "#1E1E1E"
FONT = "Open Sans"


def to_dates(base, days):
    return [base + pd.to_timedelta(d, unit="D") for d in days]


def split(pts):
    return [p[0] for p in pts], [p[1] for p in pts]


blue_pts = blue_early + blue_rise + blue_plateau + blue_late
bd, bv = split(blue_pts)
red_pts = (red_band_early + red_band_mid + list(zip(band_late_days, band_late_deg))
           + red_band_late_extra + red_low_clouds + red_high_clouds + red_scatter)
rd, rv = split(red_pts)
ibd, ibv = split(inset_blue)
ird, irv = split(inset_red)

fig = go.Figure()
fig.add_trace(go.Scatter(x=to_dates(BASE, bd), y=bv, mode="lines",
                         line=dict(color=BLUE, width=3), xaxis="x", yaxis="y"))
fig.add_trace(go.Scatter(x=to_dates(BASE, rd), y=rv, mode="markers",
                         marker=dict(color=RED, size=5, symbol="square", line=dict(width=0)),
                         xaxis="x", yaxis="y2"))
# blank overlapping window behind the inset chart
fig.add_trace(go.Scatter(x=[None], y=[None], xaxis="x2", yaxis="y3", mode="markers"))
# inset chart
fig.add_trace(go.Scatter(x=to_dates(INSET_BASE, ibd), y=ibv, mode="lines",
                         line=dict(color=BLUE, width=3), xaxis="x3", yaxis="y4"))
fig.add_trace(go.Scatter(x=to_dates(INSET_BASE, ird), y=irv, mode="markers",
                         marker=dict(color=RED, size=6.5, symbol="square", line=dict(width=0)),
                         xaxis="x3", yaxis="y5"))


def px_x(p):
    return p / W


def px_y(p):
    return 1 - p / H


tickfont = dict(family=FONT, size=14, color=TXT)
WEEK = 7 * 86400000
DAY = 86400000

fig.update_layout(
    width=W, height=H, autosize=False,
    margin=dict(l=0, r=0, t=0, b=0, pad=0, autoexpand=False),
    paper_bgcolor="white", plot_bgcolor="white",
    showlegend=False, hovermode=False,
    font=dict(family=FONT, size=14, color=TXT),
    xaxis=dict(domain=[px_x(72), px_x(913)], anchor="y", automargin=False,
               range=["2013-05-28", "2013-09-10"], type="date",
               tick0="2013-05-28", dtick=WEEK, tickformat="%-d-%b",
               ticks="outside", ticklen=6, tickcolor=GRID, tickwidth=1,
               showline=True, linecolor=GRID, linewidth=1, showgrid=False, zeroline=False,
               minor=dict(dtick=DAY, ticks="outside", ticklen=3, tickcolor=GRID, showgrid=False),
               tickfont=tickfont, ticklabelstandoff=5),
    yaxis=dict(domain=[px_y(617), px_y(12)], anchor="x", automargin=False,
               range=[0, 35 * 605 / 337], tickvals=left_ticks, tickformat=".3f",
               ticks="outside", ticklen=5, tickcolor=GRID,
               showline=True, linecolor=GRID, showgrid=False, zeroline=False,
               tickfont=tickfont, ticklabelstandoff=4),
    yaxis2=dict(overlaying="y", side="right", anchor="x", automargin=False,
                range=[360, 0], tickvals=right_ticks,
                ticks="outside", ticklen=6, tickcolor=GRID,
                showline=True, linecolor=GRID, showgrid=True, gridcolor=GRID, gridwidth=1,
                zeroline=False, tickfont=tickfont, ticklabelstandoff=3),
    xaxis2=dict(domain=[0, px_x(150)], anchor="y3", visible=False, range=[0, 1], automargin=False),
    yaxis3=dict(domain=[px_y(265), 1], anchor="x2", visible=False, range=[0, 1], automargin=False),
    xaxis3=dict(domain=[0, px_x(99)], anchor="y4", type="date", automargin=False,
                range=[INSET_BASE - pd.to_timedelta(39 / 8.43, unit="D"), "2013-09-10"],
                tick0="2013-05-28", dtick=WEEK, tickformat="%-d-%b",
                ticks="outside", ticklen=6, tickcolor=GRID,
                showline=True, linecolor=GRID, showgrid=False, zeroline=False,
                minor=dict(dtick=DAY, ticks="outside", ticklen=3, tickcolor=GRID, showgrid=False),
                tickfont=tickfont, ticklabelstandoff=6),
    yaxis4=dict(domain=[px_y(222), 1], anchor="x3", range=[0, 10], visible=False, automargin=False),
    yaxis5=dict(overlaying="y4", side="right", anchor="x3", automargin=False,
                range=[360, 360 - 222 * 20 / 38.4], tickvals=inset_right_ticks,
                ticks="outside", ticklen=6, tickcolor=GRID,
                showline=True, linecolor=GRID, showgrid=True, gridcolor=GRID,
                zeroline=False, tickfont=tickfont, ticklabelstandoff=8),
    annotations=[dict(text="27-Aug", xref="paper", yref="paper", x=px_x(7), y=px_y(248),
                      xanchor="right", yanchor="middle", showarrow=False, font=tickfont)],
)

# remove the default 8px page margin so the figure fills the window exactly
fig.write_html("out.html", config={"displayModeBar": False},
               post_script="document.body.style.margin='0';document.body.style.overflow='hidden';")
